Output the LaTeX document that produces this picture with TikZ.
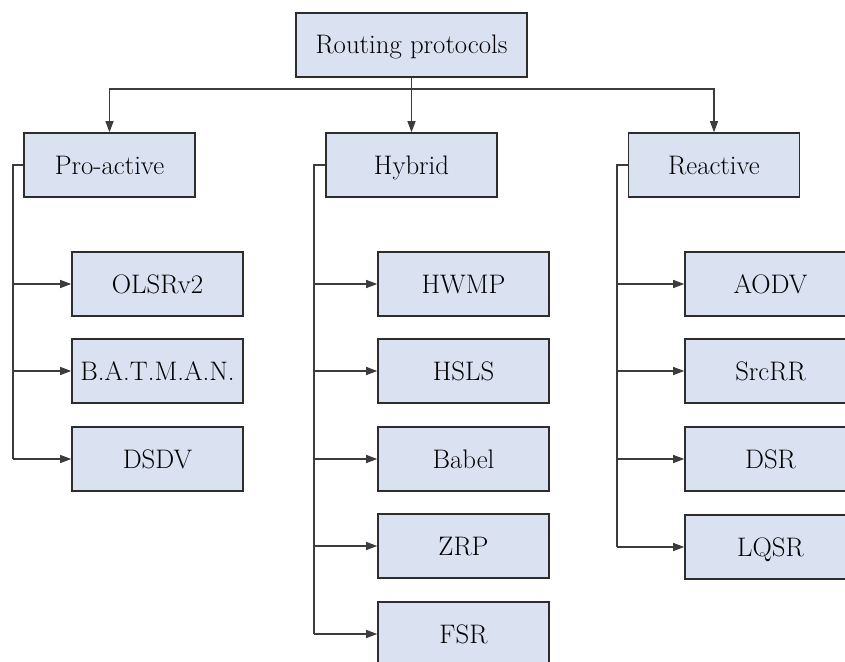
\documentclass[tikz,border=0pt]{standalone}
\usepackage{fontspec}
\usetikzlibrary{arrows.meta}
\definecolor{boxfill}{RGB}{218,226,242}
\definecolor{boxline}{RGB}{45,45,45}
\definecolor{conn}{RGB}{60,60,60}
\begin{document}
\begin{tikzpicture}[x=1pt,y=-1pt,
  box/.style={draw=boxline,line width=1.6pt,fill=boxfill,minimum width=171pt,minimum height=64pt,inner sep=0pt,text height=18pt,text depth=0pt,font=\rmfamily\fontsize{26.8}{30}\selectfont},
  wide/.style={box,minimum width=231pt},
  link/.style={draw=conn,line width=1.1pt},
  arr/.style={link,-{Triangle[length=11pt,width=8pt]}}]
\useasboundingbox (0,0) rectangle (845,661);
\clip (0,0) rectangle (845,661);
\fill[white] (0,0) rectangle (845,661);
% top level
\node[wide] (root) at (411.5,45) {Routing protocols};
\node[box] (pro) at (109.5,165) {Pro-active};
\node[box] (hyb) at (411.5,165) {Hybrid};
\node[box] (rea) at (714,165) {Reactive};
% pro-active children
\node[box] (olsr) at (157.5,284) {OLSRv2};
\node[box] (batman) at (157.5,371) {B.A.T.M.A.N.};
\node[box] (dsdv) at (157.5,459) {DSDV};
% hybrid children
\node[box] (hwmp) at (463.5,284) {HWMP};
\node[box] (hsls) at (463.5,371) {HSLS};
\node[box] (babel) at (463.5,459) {Babel};
\node[box] (zrp) at (463.5,546) {ZRP};
\node[box] (fsr) at (463.5,634) {FSR};
% reactive children
\node[box] (aodv) at (770.5,284) {AODV};
\node[box] (srcrr) at (770.5,371) {SrcRR};
\node[box] (dsr) at (770.5,459) {DSR};
\node[box] (lqsr) at (770.5,547) {LQSR};
% bus
\coordinate (bus) at (411.5,89);
\draw[arr] (root.south) -- (hyb.north);
\draw[arr] (bus) -| (pro.north);
\draw[arr] (bus) -| (rea.north);
% side trunks
\coordinate (pt) at (13,165);
\coordinate (ht) at (314,165);
\coordinate (rt) at (617,165);
\draw[link] (pro.west) -- (pt) -- (pt |- dsdv.west);
\foreach \c in {olsr,batman,dsdv} \draw[arr] (pt |- \c.west) -- (\c.west);
\draw[link] (hyb.west) -- (ht) -- (ht |- fsr.west);
\foreach \c in {hwmp,hsls,babel,zrp,fsr} \draw[arr] (ht |- \c.west) -- (\c.west);
\draw[link] (rea.west) -- (rt) -- (rt |- lqsr.west);
\foreach \c in {aodv,srcrr,dsr,lqsr} \draw[arr] (rt |- \c.west) -- (\c.west);
\end{tikzpicture}
\end{document}
